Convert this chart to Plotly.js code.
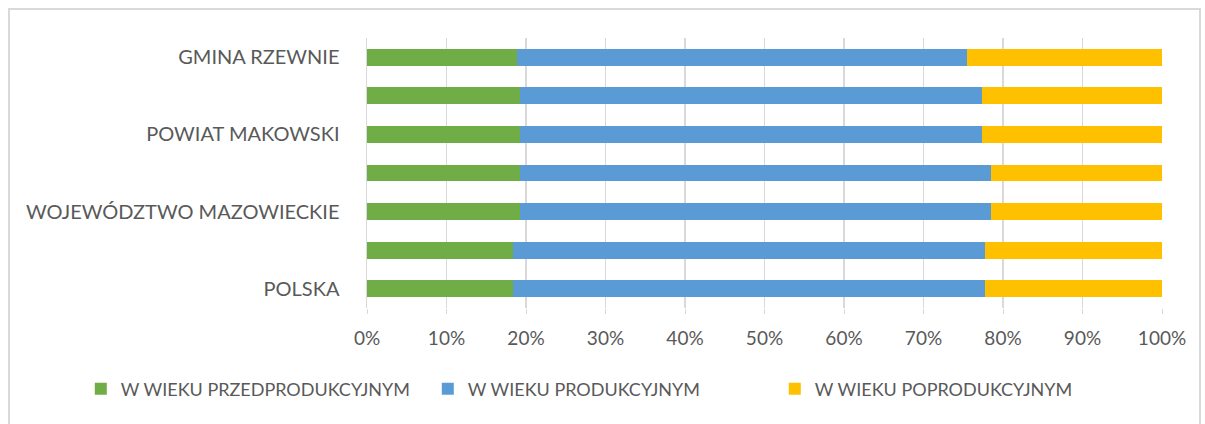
<!DOCTYPE html>
<html>
<head>
<meta charset="utf-8">
<script src="https://cdn.plot.ly/plotly-3.0.1.min.js"></script>
<style>
  body { margin: 0; background: #fff; }
  #plot { position: absolute; left: 0; top: 0; width: 1205px; height: 424px; }
  #frame { position: absolute; left: 8px; top: 8px; width: 1189px; height: 430px;
           border: 2px solid #d9d9d9; pointer-events: none; }
</style>
</head>
<body>
<div id="plot"></div>
<div id="frame"></div>
<script>
// categories, bottom to top; every second one has no visible label
var categories = ["POLSKA", "POLSKA 2", "WOJEWÓDZTWO MAZOWIECKIE", "WOJEWÓDZTWO MAZOWIECKIE 2",
                  "POWIAT MAKOWSKI", "POWIAT MAKOWSKI 2", "GMINA RZEWNIE"];
var shownLabels = ["POLSKA", "WOJEWÓDZTWO MAZOWIECKIE", "POWIAT MAKOWSKI", "GMINA RZEWNIE"];

// shares in %
var przed = [18.4, 18.4, 19.2, 19.2, 19.2, 19.2, 18.9];
var prod  = [59.3, 59.3, 59.3, 59.3, 58.2, 58.2, 56.6];
var popr  = [22.3, 22.3, 21.5, 21.5, 22.6, 22.6, 24.5];

var names = ["W WIEKU PRZEDPRODUKCYJNYM", "W WIEKU PRODUKCYJNYM", "W WIEKU POPRODUKCYJNYM"];
var colors = ["#70ad47", "#5b9bd5", "#ffc000"];

var font = "Lato, 'Open Sans', sans-serif";

var traces = [przed, prod, popr].map(function (vals, i) {
  return {
    type: 'bar',
    orientation: 'h',
    name: names[i],
    y: categories,
    x: vals,
    marker: { color: colors[i] },
    hoverinfo: 'x+name'
  };
});

var layout = {
  barmode: 'stack',
  barnorm: 'percent',
  bargap: 0.56,
  width: 1205,
  height: 424,
  margin: { l: 367, r: 43, t: 38, b: 116 },
  paper_bgcolor: '#fff',
  plot_bgcolor: '#fff',
  font: { family: font, size: 18, color: '#595959' },
  xaxis: {
    range: [0, 100],
    dtick: 10,
    ticksuffix: '%',
    showgrid: true,
    gridcolor: '#d9d9d9',
    gridwidth: 1.5,
    zeroline: false,
    ticks: 'outside',
    ticklen: 5,
    tickcolor: '#d9d9d9',
    ticklabelstandoff: 8,
    tickfont: { size: 19 },
    showline: false,
    fixedrange: true
  },
  yaxis: {
    type: 'category',
    tickvals: shownLabels,
    ticktext: shownLabels,
    showline: true,
    linecolor: '#d9d9d9',
    linewidth: 1.5,
    ticks: '',
    ticklabelstandoff: 22,
    tickfont: { size: 20 },
    showgrid: false,
    fixedrange: true
  },
  legend: {
    orientation: 'h',
    x: -0.36,
    xanchor: 'left',
    y: -0.30,
    yanchor: 'middle',
    traceorder: 'normal',
    entrywidth: 302,
    font: { family: font, size: 18, color: '#595959' },
    itemwidth: 30
  }
};

Plotly.newPlot('plot', traces, layout, { displayModeBar: false, staticPlot: true });
</script>
</body>
</html>
